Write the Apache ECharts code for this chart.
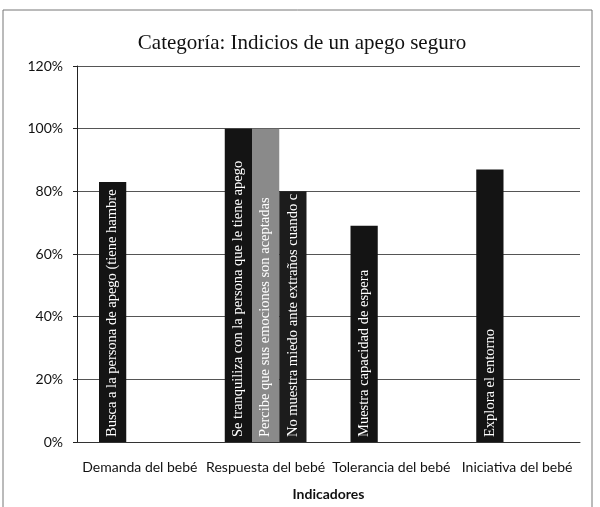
<!DOCTYPE html>
<html>
<head>
<meta charset="utf-8">
<script src="https://cdn.jsdelivr.net/npm/echarts@6/dist/echarts.min.js"></script>
<style>
  html, body { margin: 0; padding: 0; background: #fff; }
  #chart { width: 600px; height: 507px; }
</style>
</head>
<body>
<div id="chart"></div>
<script>
// datos del gráfico
const categories = ["Demanda del bebé", "Respuesta del bebé", "Tolerancia del bebé", "Iniciativa del bebé"];
const yTicks = [0, 20, 40, 60, 80, 100, 120];
const firstValues = [83, 100, 69, 87];
const secondValues = [null, 100, null, null];
const thirdValues = [null, 80, null, null];
const firstLabels = [
  "Busca a la persona de apego (tiene hambre",
  "Se tranquiliza con la persona que le tiene apego",
  "Muestra capacidad de espera",
  "Explora el entorno"
];
const secondLabels = ["", "Percibe que sus emociones son aceptadas", "", ""];
const thirdLabels = ["", "No muestra miedo ante extraños cuando c", "", ""];

const barLabel = names => ({
  show: true,
  position: "insideBottom",
  rotate: 90,
  align: "left",
  verticalAlign: "middle",
  distance: 5,
  color: "#fff",
  fontFamily: "Liberation Serif",
  fontSize: 14.5,
  formatter: p => names[p.dataIndex]
});

const chart = echarts.init(document.getElementById("chart"));
chart.setOption({
  backgroundColor: "#fff",
  animation: false,
  title: {
    text: "Categoría: Indicios de un apego seguro",
    left: 297,
    textAlign: "center",
    top: 28,
    textStyle: {
      fontFamily: "Liberation Serif",
      fontWeight: "normal",
      fontSize: 21,
      color: "#111"
    }
  },
  graphic: [{
    type: "rect",
    shape: { x: 3, y: 10, width: 589, height: 520 },
    style: { fill: null, stroke: "#777", lineWidth: 1 },
    silent: true
  }],
  grid: { left: 77, right: 20, top: 66, bottom: 65 },
  xAxis: {
    type: "category",
    data: categories,
    name: "Indicadores",
    nameLocation: "middle",
    nameGap: 45,
    nameTextStyle: { fontFamily: "Lato", fontWeight: "bold", fontSize: 14, color: "#111" },
    axisLine: { lineStyle: { color: "#333" } },
    axisTick: { show: false },
    axisLabel: { margin: 18, fontFamily: "Lato", fontSize: 14, color: "#111", interval: 0 }
  },
  yAxis: {
    type: "value",
    min: yTicks[0],
    max: yTicks[yTicks.length - 1],
    interval: 20,
    axisLine: { show: true, lineStyle: { color: "#222" } },
    axisTick: { show: true, length: 4, lineStyle: { color: "#222" } },
    splitLine: { lineStyle: { color: "#555", width: 1 } },
    axisLabel: { formatter: "{value}%", margin: 14, fontFamily: "Lato", fontSize: 14, color: "#111" }
  },
  series: [
    {
      type: "bar",
      data: firstValues,
      barGap: "0%",
      barCategoryGap: "35%",
      itemStyle: { color: "#141414" },
      label: barLabel(firstLabels)
    },
    {
      type: "bar",
      data: secondValues,
      itemStyle: { color: "#8a8a8a" },
      label: barLabel(secondLabels)
    },
    {
      type: "bar",
      data: thirdValues,
      itemStyle: { color: "#1c1c1c" },
      label: barLabel(thirdLabels)
    }
  ]
});
</script>
</body>
</html>
